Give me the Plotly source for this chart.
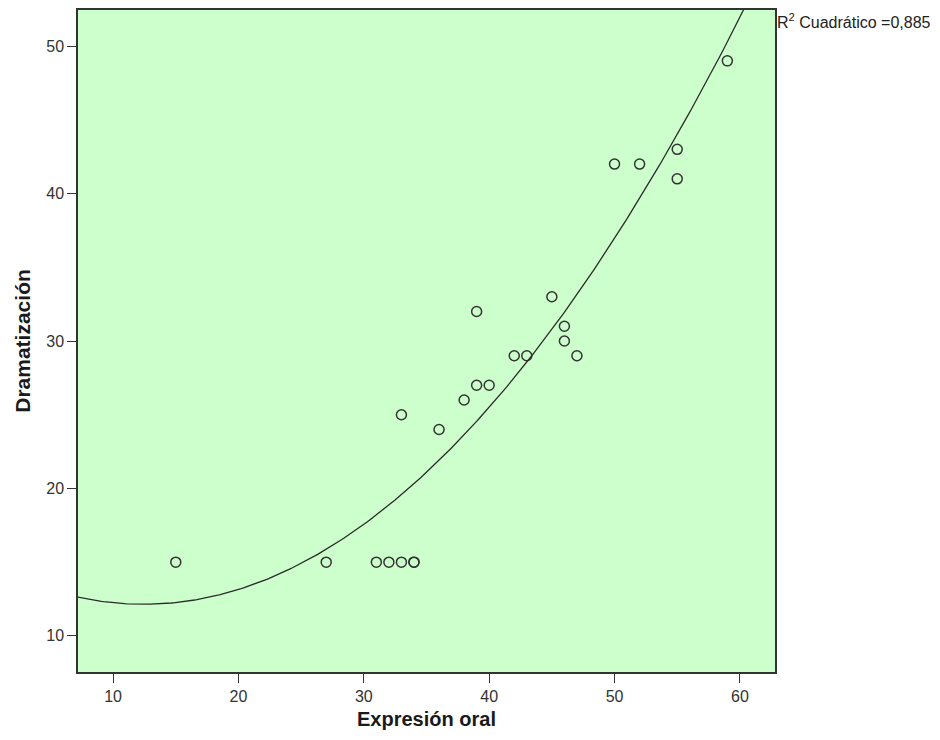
import numpy as np
import plotly.graph_objects as go

expresion_oral = [15, 27, 31, 32, 33, 34, 34, 33, 36, 38, 39, 39, 40, 42, 43, 45, 46, 46, 47, 50, 52, 55, 55, 59]
dramatizacion = [15, 15, 15, 15, 15, 15, 15, 25, 24, 26, 32, 27, 27, 29, 29, 33, 31, 30, 29, 42, 42, 43, 41, 49]
x_ticks = [10, 20, 30, 40, 50, 60]
y_ticks = [10, 20, 30, 40, 50]
r2_label = "R<sup>2</sup> Cuadrático =0,885"

coef = np.polyfit(expresion_oral, dramatizacion, 2)
xs = np.linspace(7.2, 62.8, 300)
ys = np.polyval(coef, xs)

fig = go.Figure()
fig.add_trace(go.Scatter(x=xs, y=ys, mode="lines", line=dict(color="#2b2b2b", width=1.3),
                         hoverinfo="skip", showlegend=False))
fig.add_trace(go.Scatter(x=expresion_oral, y=dramatizacion, mode="markers",
                         marker=dict(symbol="circle-open", size=10, color="#333333", line=dict(width=1.5)),
                         showlegend=False))

fig.update_layout(
    width=924, height=724,
    margin=dict(l=70, r=157, t=0, b=60),
    paper_bgcolor="white", plot_bgcolor="#ccffcc",
    font=dict(family="Liberation Sans, Arial, sans-serif", size=16, color="#333333"),
    xaxis=dict(range=[7.2, 62.8], tickvals=x_ticks, ticks="outside", ticklen=9, tickcolor="#333333",
               showgrid=False, zeroline=False, showline=True, linecolor="#333333", linewidth=1.5, mirror=True,
               tickfont=dict(size=16),
               title=dict(text="<b>Expresión oral</b>", font=dict(size=20, color="#1a1a1a"), standoff=8)),
    yaxis=dict(range=[7.55, 52.45], tickvals=y_ticks, ticks="outside", ticklen=9, tickcolor="#333333",
               showgrid=False, zeroline=False, showline=True, linecolor="#333333", linewidth=1.5, mirror=True,
               tickfont=dict(size=16),
               title=dict(text="<b>Dramatización</b>", font=dict(size=21, color="#1a1a1a"), standoff=10)),
    annotations=[dict(text=r2_label, xref="paper", yref="paper", x=1.0, y=1.0, xanchor="left", yanchor="top",
                      xshift=0, yshift=1, showarrow=False,
                      font=dict(family="Liberation Sans, Arial, sans-serif", size=16, color="#222222"))],
)

fig.write_html("out.html")
